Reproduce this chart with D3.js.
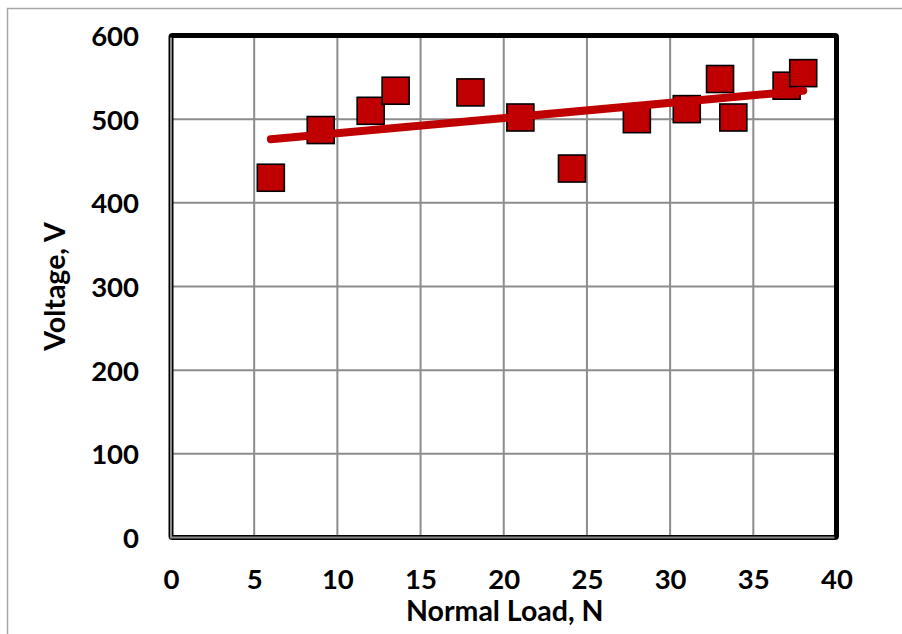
<!DOCTYPE html>
<html><head><meta charset="utf-8">
<script src="https://cdn.jsdelivr.net/npm/d3@7"></script>
<style>html,body{margin:0;padding:0;background:#fff;}svg{display:block;}</style>
</head><body>
<svg id="chart" width="902" height="634"></svg>
<script>
const loadN = [6, 9, 12, 13.5, 18, 21, 24.1, 28, 31, 33, 33.8, 37, 38];
const voltageV = [430, 487, 510, 534, 532, 502, 441, 500, 512, 548, 502, 540, 555];
const trendX = [6, 38];
const trendY = [476, 534];
const xTicks = [0, 5, 10, 15, 20, 25, 30, 35, 40];
const yTicks = [0, 100, 200, 300, 400, 500, 600];
const xTitle = "Normal Load, N";
const yTitle = "Voltage, V";

const svg = d3.select("#chart");
const L = 171, R = 836.5, T = 35.5, B = 537.5;
const x = d3.scaleLinear().domain([0, 40]).range([L, R]);
const y = d3.scaleLinear().domain([0, 600]).range([B, T]);
const font = "Lato, 'Open Sans', sans-serif";

// outer chart border
svg.append("rect").attr("x", 7.5).attr("y", 8.5).attr("width", 1000).attr("height", 1000)
  .attr("fill", "none").attr("stroke", "#a6a6a6").attr("stroke-width", 1.5);

// gridlines
svg.append("g").selectAll("line").data(xTicks.slice(1, -1)).join("line")
  .attr("x1", d => x(d)).attr("x2", d => x(d)).attr("y1", T).attr("y2", B)
  .attr("stroke", "#8c8c8c").attr("stroke-width", 2);
svg.append("g").selectAll("line").data(yTicks.slice(1, -1)).join("line")
  .attr("y1", d => y(d)).attr("y2", d => y(d)).attr("x1", L).attr("x2", R)
  .attr("stroke", "#8c8c8c").attr("stroke-width", 2);

// frame
svg.append("rect").attr("x", L).attr("y", T).attr("width", R - L).attr("height", B - T)
  .attr("fill", "none").attr("stroke", "#000").attr("stroke-width", 5).attr("rx", 1.5);
svg.append("path").attr("d", `M${L},${T + 2}V${B}H${R - 2}`)
  .attr("fill", "none").attr("stroke", "#8c8c8c").attr("stroke-width", 2);

// axes (labels only)
const xAxis = d3.axisBottom(x).tickValues(xTicks).tickSize(0).tickPadding(0).tickFormat(d3.format("d"));
const gx = svg.append("g").attr("transform", `translate(0,${B + 32})`).call(xAxis);
gx.select(".domain").remove();
gx.selectAll("text").attr("font-family", font).attr("font-weight", "bold").attr("font-size", 27.5).attr("fill", "#000").attr("dy", "0.71em");

const yAxis = d3.axisLeft(y).tickValues(yTicks).tickSize(0).tickPadding(0).tickFormat(d3.format("d"));
const gy = svg.append("g").attr("transform", `translate(${L - 32},0)`).call(yAxis);
gy.select(".domain").remove();
gy.selectAll("text").attr("font-family", font).attr("font-weight", "bold").attr("font-size", 27.5).attr("fill", "#000").attr("dy", "0.36em");

// markers
const s = 27;
svg.append("g").selectAll("rect").data(loadN.map((d, i) => [d, voltageV[i]])).join("rect")
  .attr("x", d => x(d[0]) - s / 2).attr("y", d => y(d[1]) - s / 2)
  .attr("width", s).attr("height", s)
  .attr("fill", "#c00000").attr("stroke", "#000").attr("stroke-width", 1.6);

// trend line
svg.append("path").datum(trendX.map((d, i) => [d, trendY[i]]))
  .attr("d", d3.line().x(d => x(d[0])).y(d => y(d[1])))
  .attr("fill", "none").attr("stroke", "#c00000").attr("stroke-width", 8).attr("stroke-linecap", "round");

// titles
svg.append("text").attr("x", (L + R) / 2 + 1).attr("y", 621).attr("text-anchor", "middle")
  .attr("font-family", font).attr("font-weight", "bold").attr("font-size", 28.5).text(xTitle);
svg.append("text").attr("transform", `translate(65,${(T + B) / 2}) rotate(-90)`).attr("text-anchor", "middle")
  .attr("font-family", font).attr("font-weight", "bold").attr("font-size", 28.5).text(yTitle);
</script>
</body></html>
